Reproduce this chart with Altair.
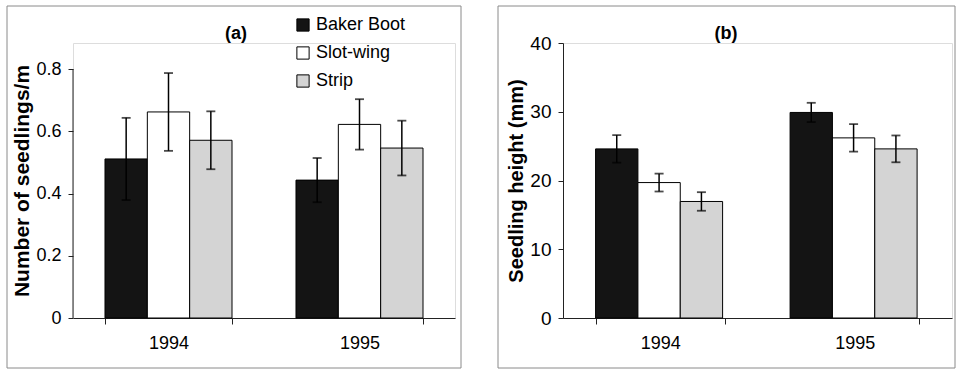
import altair as alt
import pandas as pd

years = ["1994", "1995"]
methods = ["Baker Boot", "Slot-wing", "Strip"]

seedlings_1994 = [0.511, 0.662, 0.571]
seedlings_1994_se = [0.132, 0.125, 0.093]
seedlings_1995 = [0.443, 0.622, 0.546]
seedlings_1995_se = [0.071, 0.081, 0.088]

height_1994 = [24.6, 19.7, 16.95]
height_1994_se = [2.0, 1.3, 1.35]
height_1995 = [29.9, 26.2, 24.6]
height_1995_se = [1.4, 2.0, 1.95]

colors = ["#141414", "#ffffff", "#d4d4d4"]
FONT = "Liberation Sans"


def make_df(v94, s94, v95, s95):
    rows = []
    for yr, vals, ses in [("1994", v94, s94), ("1995", v95, s95)]:
        for m, v, s in zip(methods, vals, ses):
            rows.append({"year": yr, "method": m, "value": v, "lo": v - s, "hi": v + s})
    return pd.DataFrame(rows)


df_a = make_df(seedlings_1994, seedlings_1994_se, seedlings_1995, seedlings_1995_se)
df_b = make_df(height_1994, height_1994_se, height_1995, height_1995_se)

W_A, W_B, H = 382, 389, 275

x_enc = alt.X("year:N", sort=years, title=None,
              scale=alt.Scale(paddingInner=0.335, paddingOuter=0.1675),
              axis=alt.Axis(labelAngle=0, labelFontSize=18, labelFont=FONT, labelColor="black",
                            tickBand="extent", tickSize=6, labelPadding=10,
                            domainColor="#222", tickColor="#222"))
xo = alt.XOffset("method:N", sort=methods, scale=alt.Scale(paddingInner=0, paddingOuter=0))


def panel(df, width, ydomain, yticks, ytitle, tickfs, titlefs, letter, legend, frame, title_pad,
          ydomain_line):
    base = alt.Chart(df)
    yax = alt.Axis(values=yticks, grid=False, title=ytitle, titleFont=FONT, titleFontSize=titlefs,
                   titleFontWeight="bold", titleColor="black", labelFont=FONT, labelFontSize=tickfs,
                   labelColor="black", tickSize=5, labelPadding=7, titlePadding=title_pad,
                   domain=ydomain_line, domainColor="#222", tickColor="#222",
                   format="~g")
    color = alt.Color("method:N", sort=methods,
                      scale=alt.Scale(domain=methods, range=colors),
                      legend=(alt.Legend(orient="none", legendX=221, legendY=-27, title=None,
                                         symbolType="square", symbolSize=150,
                                         symbolStrokeColor="black", symbolStrokeWidth=1,
                                         labelFont=FONT, labelFontSize=18, labelColor="black",
                                         rowPadding=10, padding=0, labelOffset=4)
                              if legend else None))
    bars = base.mark_bar(stroke="black", strokeWidth=1).encode(
        x=x_enc, xOffset=xo,
        y=alt.Y("value:Q", scale=alt.Scale(domain=ydomain, nice=False), axis=yax),
        color=color,
    )
    rules = base.mark_rule(color="black", strokeWidth=1.5).encode(
        x=x_enc, xOffset=xo, y="lo:Q", y2="hi:Q")
    caps_hi = base.mark_tick(color="black", size=9, thickness=1.8).encode(
        x=x_enc, xOffset=xo, y="hi:Q")
    caps_lo = base.mark_tick(color="black", size=9, thickness=1.8).encode(
        x=x_enc, xOffset=xo, y="lo:Q")
    one = pd.DataFrame({"label": [letter]})
    txt = alt.Chart(one).mark_text(font=FONT, fontSize=18, fontWeight="bold", color="black").encode(
        x=alt.value(163), y=alt.value(-9), text="label:N")
    box = alt.Chart(one).mark_rect(fill=None, stroke="#8a8a8a", strokeWidth=1).encode(
        x=alt.value(frame[0]), x2=alt.value(frame[1]), y=alt.value(frame[2]), y2=alt.value(frame[3]))
    layers = [box, bars, rules, caps_hi, caps_lo, txt]
    if not ydomain_line:
        yline = alt.Chart(pd.DataFrame({"lo": [0.0], "hi": [yticks[-1]]})).mark_rule(
            color="#222", strokeWidth=1).encode(x=alt.value(0), y="lo:Q", y2="hi:Q")
        layers.append(yline)
    return alt.layer(*layers).properties(width=width, height=H)


chart_a = panel(df_a, W_A, [0, 0.8 * H / 249.0], [0, 0.2, 0.4, 0.6, 0.8],
                "Number of seedlings/m", 18, 21, "(a)", True, (-66, 388, -37, 325), 3, False)
chart_b = panel(df_b, W_B, [0, 40], [0, 10, 20, 30, 40],
                "Seedling height (mm)", 19, 20, "(b)", False, (-65, 392, -37, 325), 3, True)

chart = alt.hconcat(chart_a, chart_b, spacing=35).resolve_scale(color="independent").properties(
    padding={"left": 6, "top": 5, "right": 0, "bottom": 0}
).configure_view(stroke=None).configure(background="white")

chart.save("out.html", embed_options={"renderer": "svg", "actions": False})
